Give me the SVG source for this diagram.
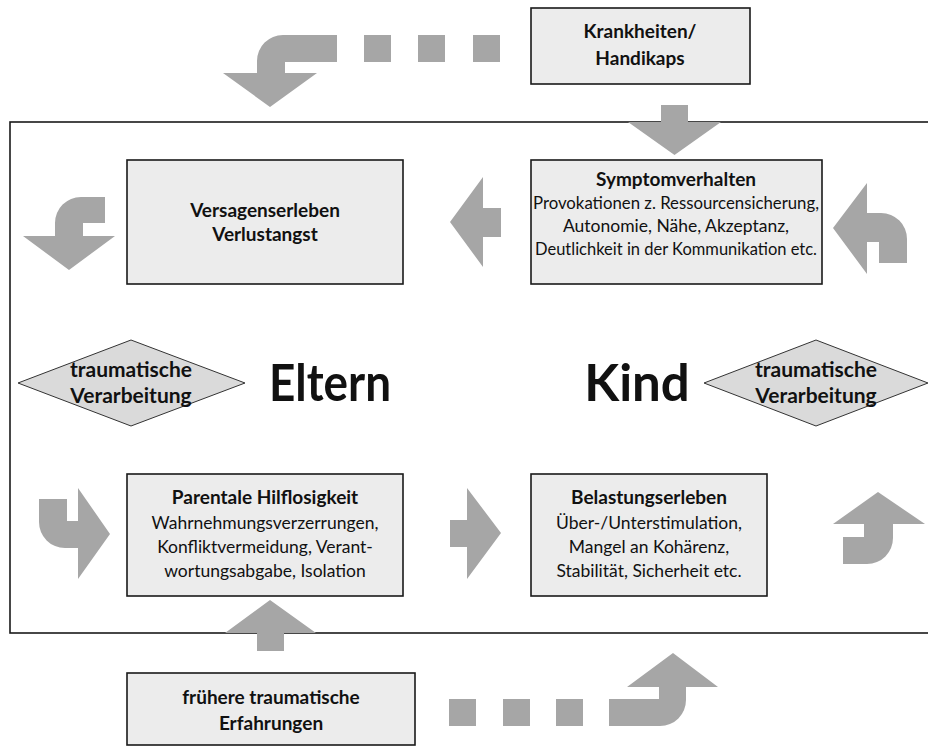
<svg xmlns="http://www.w3.org/2000/svg" width="928" height="749" viewBox="0 0 928 749">
<style>
  .box { fill: #ececec; stroke: #1a1a1a; stroke-width: 1.6; }
  .dia { fill: #dadada; stroke: #333; stroke-width: 1; }
  .arr { fill: #a6a6a6; }
  text { font-family: Lato, "Open Sans", sans-serif; fill: #111; text-anchor: middle; }
  .b { font-weight: bold; font-size: 19px; }
  .n { font-size: 17.5px; }
  .d { font-weight: bold; font-size: 21px; }
  .big { font-weight: bold; font-size: 51px; }
</style>
<rect x="0" y="0" width="928" height="749" fill="#fff"/>
<rect id="frame" x="10" y="122" width="930" height="511" fill="none" stroke="#1a1a1a" stroke-width="1.6"/>

<g id="krankheiten">
  <rect class="box" x="531" y="8" width="219" height="76"/>
  <text class="b" x="640" y="38">Krankheiten/</text>
  <text class="b" x="640" y="65">Handikaps</text>
</g>
<g id="versagenserleben">
  <rect class="box" x="127" y="160" width="276" height="124"/>
  <text class="b" x="265" y="217">Versagenserleben</text>
  <text class="b" x="265" y="241">Verlustangst</text>
</g>
<g id="symptomverhalten">
  <rect class="box" x="531" y="160" width="291" height="124"/>
  <text class="b" x="676" y="186">Symptomverhalten</text>
  <text class="n" x="676" y="209" textLength="286" lengthAdjust="spacingAndGlyphs">Provokationen z. Ressourcensicherung,</text>
  <text class="n" x="676" y="232">Autonomie, Nähe, Akzeptanz,</text>
  <text class="n" x="676" y="255" textLength="282" lengthAdjust="spacingAndGlyphs">Deutlichkeit in der Kommunikation etc.</text>
</g>
<g id="parentale">
  <rect class="box" x="127" y="474" width="276" height="122"/>
  <text class="b" x="265" y="504">Parentale Hilflosigkeit</text>
  <text class="n" x="265" y="529">Wahrnehmungsverzerrungen,</text>
  <text class="n" x="265" y="553">Konfliktvermeidung, Verant-</text>
  <text class="n" x="265" y="577">wortungsabgabe, Isolation</text>
</g>
<g id="belastung">
  <rect class="box" x="531" y="474" width="236" height="122"/>
  <text class="b" x="649" y="504">Belastungserleben</text>
  <text class="n" x="649" y="529">Über-/Unterstimulation,</text>
  <text class="n" x="649" y="553">Mangel an Kohärenz,</text>
  <text class="n" x="649" y="577">Stabilität, Sicherheit etc.</text>
</g>
<g id="fruehere">
  <rect class="box" x="127" y="673" width="288" height="72"/>
  <text class="b" x="271" y="704">frühere traumatische</text>
  <text class="b" x="271" y="730">Erfahrungen</text>
</g>
<g id="dia-left">
  <polygon class="dia" points="18,383 131,340 245,383 131,426"/>
  <text class="d" x="131" y="377">traumatische</text>
  <text class="d" x="131" y="403">Verarbeitung</text>
</g>
<g id="dia-right">
  <polygon class="dia" points="704,383 816,340 928,383 816,426"/>
  <text class="d" x="816" y="377">traumatische</text>
  <text class="d" x="816" y="403">Verarbeitung</text>
</g>
<g id="labels">
  <text class="big" x="330" y="401" textLength="122" lengthAdjust="spacingAndGlyphs">Eltern</text>
  <text class="big" x="637" y="401">Kind</text>
</g>

<g id="connectors" class="arr">
  <rect x="364" y="35" width="27" height="27"/>
  <rect x="418" y="35" width="27" height="27"/>
  <rect x="473" y="35" width="27" height="27"/>
  <path d="M337,35 H283 A26,26 0 0 0 257,61 V73 H223 L270,107 L317,73 H285 V62 H337 Z"/>
  <path d="M661,105 H688 V122 H721 L674.5,155 L628,122 H661 Z"/>
  <path d="M105,197 H81 A26,26 0 0 0 55,223 V236 H23 L69,270 L115,236 H83 V223 H105 Z"/>
  <path d="M501,208 H483 V177 L450,222 L483,267 V237 H501 Z"/>
  <path d="M833,228 L867,183 V213 H881 A26,26 0 0 1 907,239 V263 H879 V242 H867 V274 Z"/>
  <path d="M39,499 H67 V521 H78 V488 L110,534 L78,579 V548 H65 A26,26 0 0 1 39,522 Z"/>
  <path d="M450,520 H467 V488 L501,533 L467,579 V547 H450 Z"/>
  <path d="M878,492 L925,524 H893 V538 A26,26 0 0 1 867,564 H843 V537 H864 V524 H833 Z"/>
  <path d="M270,600 L316,633 H284 V651 H257 V633 H225 Z"/>
  <rect x="449" y="699" width="27" height="27"/>
  <rect x="503" y="699" width="27" height="27"/>
  <rect x="556" y="699" width="27" height="27"/>
  <path d="M609,699 H659 V687 H627 L673,653 L718,687 H686 V700 A26,26 0 0 1 660,726 H609 Z"/>
</g>
</svg>
